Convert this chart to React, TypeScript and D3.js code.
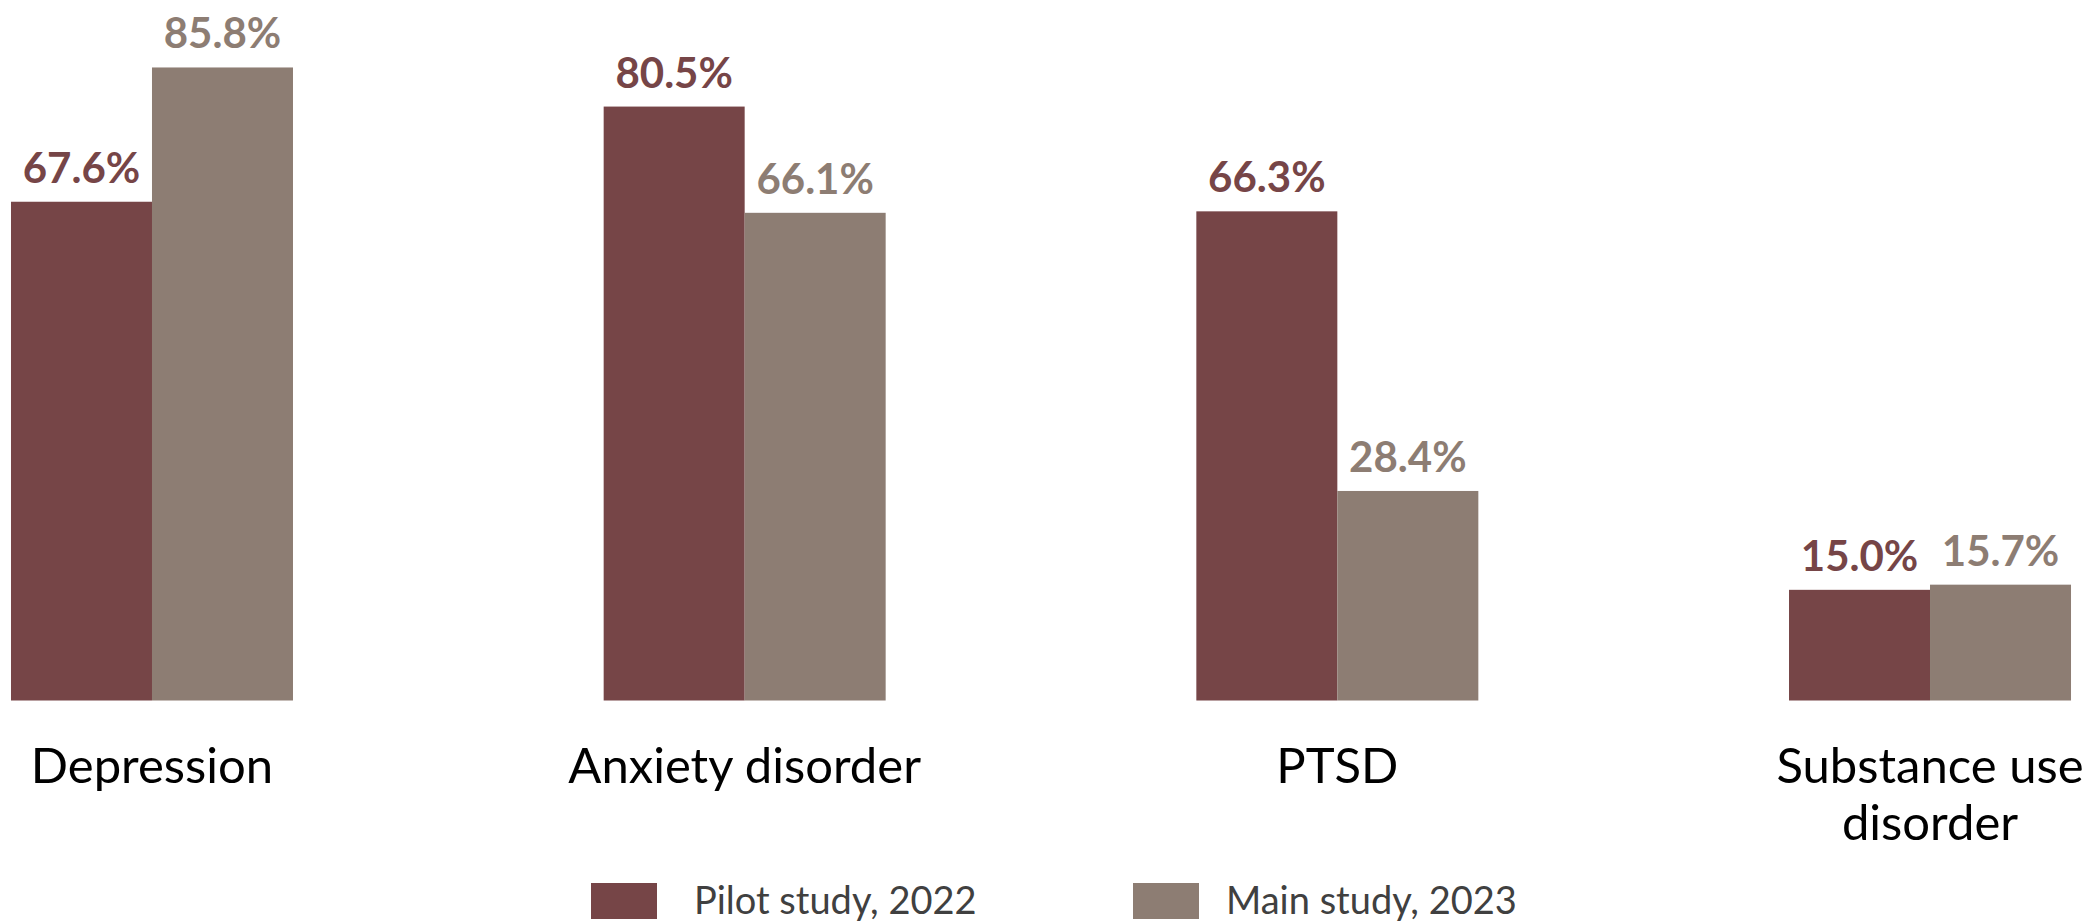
import React, { useEffect, useRef } from 'react';
import * as d3 from 'd3';

// chart data
const categories = ['Depression', 'Anxiety disorder', 'PTSD', 'Substance use disorder'];
const categoryLines = [['Depression'], ['Anxiety disorder'], ['PTSD'], ['Substance use', 'disorder']];
const seriesNames = ['Pilot study, 2022', 'Main study, 2023'];
const pilotValues = [67.6, 80.5, 66.3, 15.0];
const mainValues = [85.8, 66.1, 28.4, 15.7];
const seriesColors = ['#764547', '#8d7d73'];

const WIDTH = 2100;
const HEIGHT = 923;

const App: React.FC = () => {
  const chartRef = useRef<SVGSVGElement>(null);

  useEffect(() => {
    if (!chartRef.current) return;

    const svg = d3.select(chartRef.current);
    svg.selectAll('*').remove();

    const baseline = 700.5;
    const fontFamily = 'Lato, "Open Sans", sans-serif';

    // outer band scale runs past the picture edges, like the cropped original
    const x0 = d3
      .scaleBand<string>()
      .domain(categories)
      .range([-144.35, 2226.35])
      .paddingInner(0.5242)
      .paddingOuter(0.2621);

    const x1 = d3
      .scaleBand<string>()
      .domain(seriesNames)
      .range([0, x0.bandwidth()])
      .padding(0);

    const y = d3.scaleLinear().domain([0, 100]).range([baseline, -37.3]);

    const rows = categories.map((c, i) => ({
      category: c,
      values: [pilotValues[i], mainValues[i]],
    }));

    const groups = svg
      .append('g')
      .selectAll('g')
      .data(rows)
      .join('g')
      .attr('transform', (d) => `translate(${x0(d.category)},0)`);

    groups
      .selectAll('rect')
      .data((d) => d.values.map((v, j) => ({ v, j })))
      .join('rect')
      .attr('x', (d) => x1(seriesNames[d.j]) as number)
      .attr('y', (d) => y(d.v))
      .attr('width', x1.bandwidth())
      .attr('height', (d) => baseline - y(d.v))
      .attr('fill', (d) => seriesColors[d.j]);

    // value labels above bars
    groups
      .selectAll('text.value')
      .data((d) => d.values.map((v, j) => ({ v, j })))
      .join('text')
      .attr('class', 'value')
      .attr('x', (d) => (x1(seriesNames[d.j]) as number) + x1.bandwidth() / 2)
      .attr('y', (d) => y(d.v) - 19)
      .attr('text-anchor', 'middle')
      .attr('font-family', fontFamily)
      .attr('font-weight', 700)
      .attr('font-size', 42)
      .attr('fill', (d) => seriesColors[d.j])
      .text((d) => d.v.toFixed(1) + '%');

    // category labels
    const catText = svg
      .append('g')
      .selectAll('text')
      .data(categories)
      .join('text')
      .attr('x', (d) => (x0(d) as number) + x0.bandwidth() / 2)
      .attr('y', 782.5)
      .attr('text-anchor', 'middle')
      .attr('font-family', fontFamily)
      .attr('font-size', 49)
      .attr('fill', '#000');

    catText
      .selectAll('tspan')
      .data((d) => categoryLines[categories.indexOf(d)])
      .join('tspan')
      .attr('x', function () {
        return (this.parentNode as SVGTextElement).getAttribute('x');
      })
      .attr('dy', (d, i) => (i === 0 ? 0 : 57.5))
      .text((d) => d);

    // legend
    const legendX = [591, 1133];
    const legend = svg
      .append('g')
      .selectAll('g')
      .data(seriesNames)
      .join('g')
      .attr('transform', (d, i) => `translate(${legendX[i]},883)`);

    legend
      .append('rect')
      .attr('width', 66)
      .attr('height', 36)
      .attr('fill', (d, i) => seriesColors[i]);

    legend
      .append('text')
      .attr('x', (d, i) => (i === 0 ? 103 : 93))
      .attr('y', 31)
      .attr('font-family', fontFamily)
      .attr('font-size', 38)
      .attr('fill', '#404040')
      .text((d) => d);
  }, []);

  return (
    <svg
      ref={chartRef}
      width={WIDTH}
      height={HEIGHT}
      style={{ position: 'absolute', left: 0, top: 0, background: '#fff' }}
    ></svg>
  );
};

export default App;
